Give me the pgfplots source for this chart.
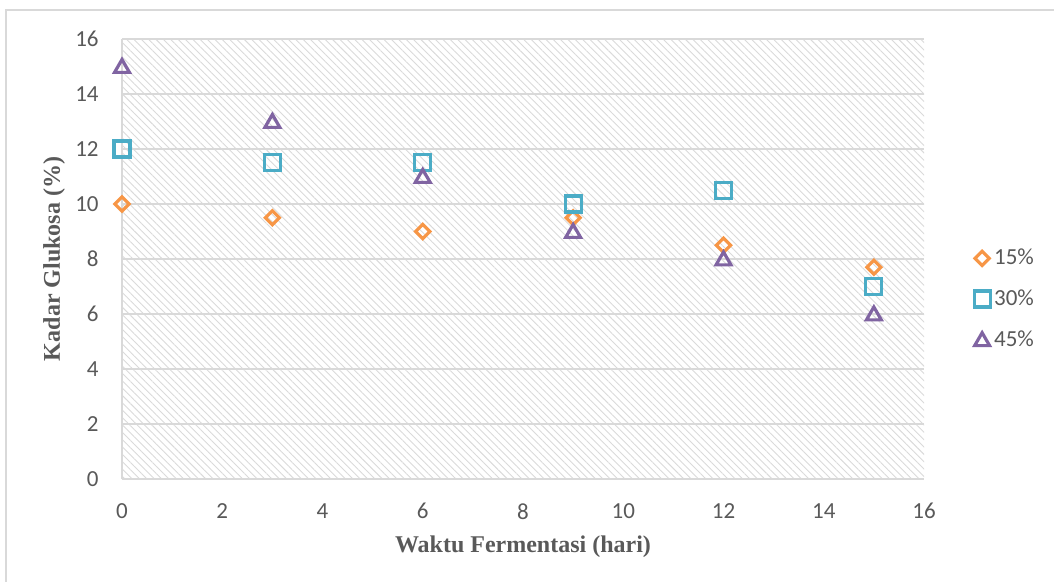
\documentclass[border=0pt]{standalone}
\usepackage{pgfplots}
\pgfplotsset{compat=1.18}
\usetikzlibrary{patterns.meta}
\usepackage{fontspec}
\setmainfont{Liberation Serif}
\newfontfamily\calibri{Carlito}
\definecolor{txtgray}{HTML}{595959}
\definecolor{gridgray}{HTML}{D9D9D9}
\definecolor{hatch}{HTML}{DADADA}
\definecolor{c15}{HTML}{F79646}
\definecolor{c30}{HTML}{4BACC6}
\definecolor{c45}{HTML}{8064A2}
\begin{document}
\begin{tikzpicture}
\path[use as bounding box] (0pt,0pt) rectangle (527pt,-291pt);
\draw[gridgray, line width=0.6pt] (3pt,-292pt) -- (3pt,-5pt) -- (528pt,-5pt);
\begin{axis}[
  at={(61pt,-239.5pt)}, anchor=south west,
  scale only axis, width=401pt, height=220pt,
  xmin=0, xmax=16, ymin=0, ymax=16,
  xtick={0,2,...,16}, ytick={0,2,...,16},
  major tick length=0pt,
  axis x line*=bottom, axis y line*=left,
  axis line style={gridgray, line width=0.8pt, -},
  ymajorgrids, grid style={gridgray, line width=0.8pt},
  axis background/.style={pattern={Lines[angle=-45,distance=2.6pt,line width=0.45pt]}, pattern color=hatch},
  tick label style={font=\fontsize{11.5}{13}\calibri, text=txtgray, /pgf/number format/assume math mode=true},
  yticklabel style={inner sep=0pt, anchor=east, xshift=-11.5pt},
  xticklabel style={inner sep=0pt, anchor=north, yshift=-12pt},
  xlabel={Waktu Fermentasi (hari)},
  ylabel={Kadar Glukosa (\%)},
  label style={font=\fontsize{12}{14}\selectfont\bfseries, text=txtgray},
  xlabel style={at={(axis description cs:0.5,-0.1545)}, anchor=center},
  ylabel style={at={(axis description cs:-0.0848,0.5)}, anchor=center},
  legend style={at={(axis description cs:1.062,0.409)}, anchor=west, draw=none, fill=none,
    font=\fontsize{11.5}{13}\calibri, text=txtgray, row sep=7pt, inner sep=0pt},
  legend cell align=left,
  legend image code/.code={\draw[#1] plot coordinates {(4pt,0pt)};},
]
\addplot[only marks, mark=square, mark size=2.5pt, mark options={rotate=45, c15, line width=1.6pt}] coordinates {
(0,10) (3,9.5) (6,9) (9,9.5) (12,8.5) (15,7.7)};
\addlegendentry{15\%}
\addplot[only marks, mark=square, mark size=4.0pt, mark options={c30, line width=1.6pt}] coordinates {
(0,12) (3,11.5) (6,11.5) (9,10) (12,10.5) (15,7)};
\addlegendentry{30\%}
\addplot[only marks, mark=triangle, mark size=4.3pt, mark options={c45, line width=1.6pt, yshift=-0.8pt}] coordinates {
(0,15) (3,13) (6,11) (9,9) (12,8) (15,6)};
\addlegendentry{45\%}
\end{axis}
\end{tikzpicture}
\end{document}
